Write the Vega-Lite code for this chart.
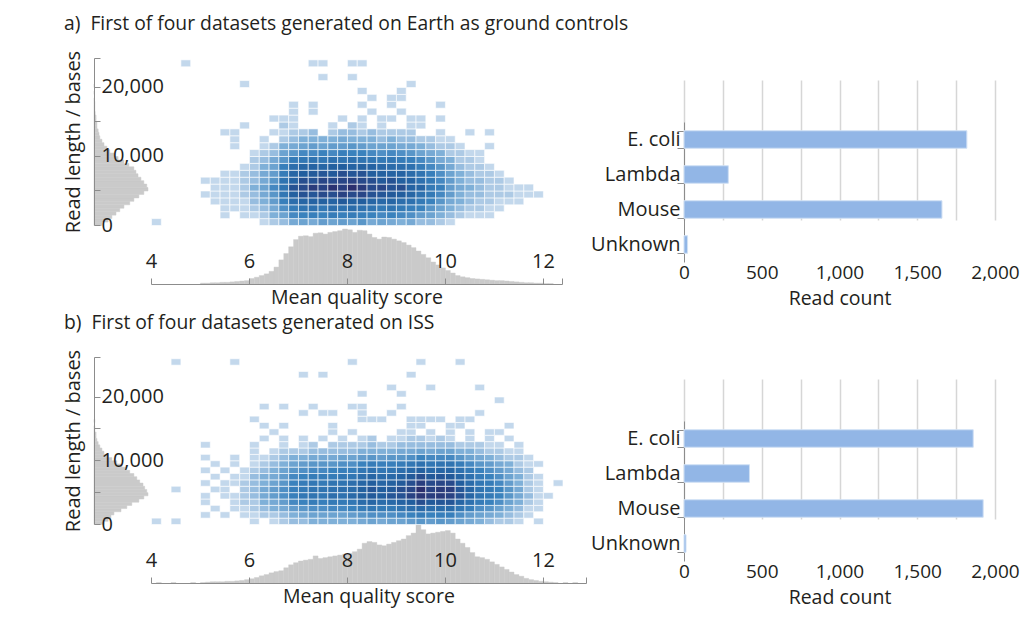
{
"$schema": "https://vega.github.io/schema/vega-lite/v6.json",
"background": "white",
"padding": {"left": 63, "top": 14, "right": 0, "bottom": 8},
"spacing": 5,
"config": {
  "font": "Open Sans",
  "view": {"stroke": null},
  "axis": {"labelFont": "Open Sans", "titleFont": "Open Sans", "labelColor": "#231f20", "titleColor": "#231f20", "titleFontWeight": "normal", "labelFontSize": 20, "titleFontSize": 19.5, "domainColor": "#8c8c8c", "tickColor": "#8c8c8c", "labelFlush": false, "labelOverlap": false, "grid": false},
  "title": {"font": "Open Sans", "fontSize": 19.3, "fontWeight": "normal", "color": "#231f20", "anchor": "start", "frame": "group", "dx": -30, "offset": 14, "baseline": "bottom"}
},
"datasets": {
"ba": [{"o":"E. coli","c":1819},{"o":"Lambda","c":285},{"o":"Mouse","c":1659},{"o":"Unknown","c":23}],
"bb": [{"o":"E. coli","c":1860},{"o":"Lambda","c":421},{"o":"Mouse","c":1924},{"o":"Unknown","c":13}],
"xa": [{"q":5.0,"n":2},{"q":5.1,"n":2},{"q":5.2,"n":3},{"q":5.3,"n":3},{"q":5.4,"n":4},{"q":5.5,"n":4},{"q":5.6,"n":5},{"q":5.7,"n":6},{"q":5.8,"n":7},{"q":5.9,"n":8},{"q":6.0,"n":13},{"q":6.1,"n":16},{"q":6.2,"n":20},{"q":6.3,"n":24},{"q":6.4,"n":30},{"q":6.5,"n":40},{"q":6.6,"n":57},{"q":6.7,"n":72},{"q":6.8,"n":88},{"q":6.9,"n":105},{"q":7.0,"n":113},{"q":7.1,"n":114},{"q":7.2,"n":112},{"q":7.3,"n":120},{"q":7.4,"n":121},{"q":7.5,"n":118},{"q":7.6,"n":122},{"q":7.7,"n":124},{"q":7.8,"n":126},{"q":7.9,"n":130},{"q":8.0,"n":128},{"q":8.1,"n":122},{"q":8.2,"n":127},{"q":8.3,"n":126},{"q":8.4,"n":118},{"q":8.5,"n":110},{"q":8.6,"n":106},{"q":8.7,"n":111},{"q":8.8,"n":110},{"q":8.9,"n":106},{"q":9.0,"n":102},{"q":9.1,"n":98},{"q":9.2,"n":92},{"q":9.3,"n":86},{"q":9.4,"n":78},{"q":9.5,"n":70},{"q":9.6,"n":62},{"q":9.7,"n":52},{"q":9.8,"n":45},{"q":9.9,"n":38},{"q":10.0,"n":32},{"q":10.1,"n":26},{"q":10.2,"n":20},{"q":10.3,"n":17},{"q":10.4,"n":15},{"q":10.5,"n":13},{"q":10.6,"n":12},{"q":10.7,"n":11},{"q":10.8,"n":10},{"q":10.9,"n":9},{"q":11.0,"n":8},{"q":11.1,"n":8},{"q":11.2,"n":7},{"q":11.3,"n":6},{"q":11.4,"n":5},{"q":11.5,"n":4},{"q":11.6,"n":3},{"q":11.7,"n":3},{"q":11.8,"n":2},{"q":11.9,"n":2},{"q":12.0,"n":1},{"q":12.1,"n":1}],
"xb": [{"q":4.1,"n":1},{"q":4.4,"n":1},{"q":4.8,"n":1},{"q":5.0,"n":1},{"q":5.1,"n":2},{"q":5.2,"n":3},{"q":5.3,"n":3},{"q":5.4,"n":3},{"q":5.5,"n":4},{"q":5.6,"n":4},{"q":5.7,"n":5},{"q":5.8,"n":6},{"q":5.9,"n":8},{"q":6.0,"n":10},{"q":6.1,"n":13},{"q":6.2,"n":17},{"q":6.3,"n":20},{"q":6.4,"n":24},{"q":6.5,"n":27},{"q":6.6,"n":29},{"q":6.7,"n":36},{"q":6.8,"n":43},{"q":6.9,"n":48},{"q":7.0,"n":52},{"q":7.1,"n":54},{"q":7.2,"n":56},{"q":7.3,"n":64},{"q":7.4,"n":58},{"q":7.5,"n":60},{"q":7.6,"n":62},{"q":7.7,"n":64},{"q":7.8,"n":66},{"q":7.9,"n":68},{"q":8.0,"n":70},{"q":8.1,"n":74},{"q":8.2,"n":80},{"q":8.3,"n":94},{"q":8.4,"n":98},{"q":8.5,"n":96},{"q":8.6,"n":90},{"q":8.7,"n":88},{"q":8.8,"n":92},{"q":8.9,"n":96},{"q":9.0,"n":100},{"q":9.1,"n":104},{"q":9.2,"n":112},{"q":9.3,"n":118},{"q":9.4,"n":137},{"q":9.5,"n":126},{"q":9.6,"n":116},{"q":9.7,"n":118},{"q":9.8,"n":120},{"q":9.9,"n":122},{"q":10.0,"n":124},{"q":10.1,"n":118},{"q":10.2,"n":104},{"q":10.3,"n":94},{"q":10.4,"n":84},{"q":10.5,"n":72},{"q":10.6,"n":62},{"q":10.7,"n":60},{"q":10.8,"n":56},{"q":10.9,"n":50},{"q":11.0,"n":44},{"q":11.1,"n":38},{"q":11.2,"n":32},{"q":11.3,"n":26},{"q":11.4,"n":20},{"q":11.5,"n":16},{"q":11.6,"n":11},{"q":11.7,"n":8},{"q":11.8,"n":6},{"q":11.9,"n":4},{"q":12.0,"n":3},{"q":12.1,"n":2},{"q":12.2,"n":1},{"q":12.4,"n":1},{"q":12.6,"n":1}],
"ya": [{"l":0,"n":19},{"l":0.5,"n":34},{"l":1,"n":43},{"l":1.5,"n":53},{"l":2,"n":62},{"l":2.5,"n":72},{"l":3,"n":86},{"l":3.5,"n":96},{"l":4,"n":108},{"l":4.5,"n":120},{"l":5,"n":130},{"l":5.5,"n":127},{"l":6,"n":120},{"l":6.5,"n":113},{"l":7,"n":106},{"l":7.5,"n":101},{"l":8,"n":96},{"l":8.5,"n":84},{"l":9,"n":72},{"l":9.5,"n":58},{"l":10,"n":48},{"l":10.5,"n":38},{"l":11,"n":31},{"l":11.5,"n":24},{"l":12,"n":19},{"l":12.5,"n":14},{"l":13,"n":12},{"l":13.5,"n":10},{"l":14,"n":7},{"l":14.5,"n":7},{"l":15,"n":5},{"l":15.5,"n":5},{"l":16,"n":3},{"l":16.5,"n":2},{"l":17,"n":2},{"l":17.5,"n":2},{"l":18,"n":1},{"l":19,"n":1},{"l":20,"n":1}],
"yb": [{"l":0,"n":24},{"l":0.5,"n":34},{"l":1,"n":41},{"l":1.5,"n":48},{"l":2,"n":65},{"l":2.5,"n":79},{"l":3,"n":91},{"l":3.5,"n":108},{"l":4,"n":120},{"l":4.5,"n":130},{"l":5,"n":127},{"l":5.5,"n":122},{"l":6,"n":118},{"l":6.5,"n":110},{"l":7,"n":103},{"l":7.5,"n":96},{"l":8,"n":86},{"l":8.5,"n":77},{"l":9,"n":67},{"l":9.5,"n":55},{"l":10,"n":43},{"l":10.5,"n":34},{"l":11,"n":24},{"l":11.5,"n":19},{"l":12,"n":14},{"l":12.5,"n":10},{"l":13,"n":7},{"l":13.5,"n":5},{"l":14,"n":5},{"l":14.5,"n":2},{"l":15,"n":2},{"l":16,"n":2}],
"ha": [
{"q":4.0,"l":0,"n":1},{"q":6.2,"l":0,"n":1},{"q":6.4,"l":0,"n":2},{"q":6.6,"l":0,"n":3},{"q":6.8,"l":0,"n":5},{"q":7.0,"l":0,"n":6},{"q":7.2,"l":0,"n":5},{"q":7.4,"l":0,"n":7},{"q":7.6,"l":0,"n":6},{"q":7.8,"l":0,"n":7},{"q":8.0,"l":0,"n":6},{"q":8.2,"l":0,"n":8},{"q":8.4,"l":0,"n":5},{"q":8.6,"l":0,"n":6},{"q":8.8,"l":0,"n":5},{"q":9.0,"l":0,"n":4},{"q":9.2,"l":0,"n":5},{"q":9.4,"l":0,"n":3},{"q":9.6,"l":0,"n":3},{"q":9.8,"l":0,"n":2},{"q":10.0,"l":0,"n":1},
{"q":5.4,"l":1,"n":1},{"q":5.8,"l":1,"n":1},{"q":6.0,"l":1,"n":1},{"q":6.2,"l":1,"n":2},{"q":6.4,"l":1,"n":4},{"q":6.6,"l":1,"n":6},{"q":6.8,"l":1,"n":10},{"q":7.0,"l":1,"n":11},{"q":7.2,"l":1,"n":12},{"q":7.4,"l":1,"n":11},{"q":7.6,"l":1,"n":13},{"q":7.8,"l":1,"n":12},{"q":8.0,"l":1,"n":13},{"q":8.2,"l":1,"n":12},{"q":8.4,"l":1,"n":11},{"q":8.6,"l":1,"n":10},{"q":8.8,"l":1,"n":11},{"q":9.0,"l":1,"n":10},{"q":9.2,"l":1,"n":9},{"q":9.4,"l":1,"n":7},{"q":9.6,"l":1,"n":6},{"q":9.8,"l":1,"n":4},{"q":10.0,"l":1,"n":3},{"q":10.2,"l":1,"n":2},{"q":10.4,"l":1,"n":1},{"q":10.6,"l":1,"n":1},{"q":10.8,"l":1,"n":1},
{"q":5.4,"l":2,"n":1},{"q":5.6,"l":2,"n":1},{"q":5.8,"l":2,"n":1},{"q":6.0,"l":2,"n":2},{"q":6.2,"l":2,"n":3},{"q":6.4,"l":2,"n":5},{"q":6.6,"l":2,"n":9},{"q":6.8,"l":2,"n":13},{"q":7.0,"l":2,"n":16},{"q":7.2,"l":2,"n":17},{"q":7.4,"l":2,"n":15},{"q":7.6,"l":2,"n":18},{"q":7.8,"l":2,"n":17},{"q":8.0,"l":2,"n":19},{"q":8.2,"l":2,"n":17},{"q":8.4,"l":2,"n":16},{"q":8.6,"l":2,"n":14},{"q":8.8,"l":2,"n":16},{"q":9.0,"l":2,"n":14},{"q":9.2,"l":2,"n":12},{"q":9.4,"l":2,"n":11},{"q":9.6,"l":2,"n":8},{"q":9.8,"l":2,"n":6},{"q":10.0,"l":2,"n":4},{"q":10.2,"l":2,"n":3},{"q":10.4,"l":2,"n":2},{"q":10.6,"l":2,"n":2},{"q":10.8,"l":2,"n":1},{"q":11.0,"l":2,"n":1},
{"q":5.2,"l":3,"n":1},{"q":5.4,"l":3,"n":1},{"q":5.6,"l":3,"n":1},{"q":5.8,"l":3,"n":1},{"q":6.0,"l":3,"n":3},{"q":6.2,"l":3,"n":4},{"q":6.4,"l":3,"n":7},{"q":6.6,"l":3,"n":12},{"q":6.8,"l":3,"n":18},{"q":7.0,"l":3,"n":21},{"q":7.2,"l":3,"n":22},{"q":7.4,"l":3,"n":23},{"q":7.6,"l":3,"n":22},{"q":7.8,"l":3,"n":25},{"q":8.0,"l":3,"n":23},{"q":8.2,"l":3,"n":24},{"q":8.4,"l":3,"n":21},{"q":8.6,"l":3,"n":20},{"q":8.8,"l":3,"n":21},{"q":9.0,"l":3,"n":18},{"q":9.2,"l":3,"n":17},{"q":9.4,"l":3,"n":14},{"q":9.6,"l":3,"n":11},{"q":9.8,"l":3,"n":8},{"q":10.0,"l":3,"n":5},{"q":10.2,"l":3,"n":4},{"q":10.4,"l":3,"n":3},{"q":10.6,"l":3,"n":2},{"q":10.8,"l":3,"n":2},{"q":11.0,"l":3,"n":1},{"q":11.2,"l":3,"n":1},{"q":11.4,"l":3,"n":1},
{"q":5.0,"l":4,"n":1},{"q":5.2,"l":4,"n":1},{"q":5.4,"l":4,"n":1},{"q":5.6,"l":4,"n":1},{"q":5.8,"l":4,"n":2},{"q":6.0,"l":4,"n":3},{"q":6.2,"l":4,"n":5},{"q":6.4,"l":4,"n":8},{"q":6.6,"l":4,"n":15},{"q":6.8,"l":4,"n":23},{"q":7.0,"l":4,"n":27},{"q":7.2,"l":4,"n":26},{"q":7.4,"l":4,"n":29},{"q":7.6,"l":4,"n":28},{"q":7.8,"l":4,"n":31},{"q":8.0,"l":4,"n":29},{"q":8.2,"l":4,"n":30},{"q":8.4,"l":4,"n":27},{"q":8.6,"l":4,"n":26},{"q":8.8,"l":4,"n":25},{"q":9.0,"l":4,"n":24},{"q":9.2,"l":4,"n":21},{"q":9.4,"l":4,"n":17},{"q":9.6,"l":4,"n":14},{"q":9.8,"l":4,"n":10},{"q":10.0,"l":4,"n":7},{"q":10.2,"l":4,"n":4},{"q":10.4,"l":4,"n":3},{"q":10.6,"l":4,"n":3},{"q":10.8,"l":4,"n":2},{"q":11.0,"l":4,"n":2},{"q":11.2,"l":4,"n":2},{"q":11.4,"l":4,"n":1},{"q":11.6,"l":4,"n":1},{"q":11.8,"l":4,"n":1},
{"q":5.2,"l":5,"n":1},{"q":5.4,"l":5,"n":1},{"q":5.6,"l":5,"n":1},{"q":5.8,"l":5,"n":2},{"q":6.0,"l":5,"n":4},{"q":6.2,"l":5,"n":6},{"q":6.4,"l":5,"n":10},{"q":6.6,"l":5,"n":16},{"q":6.8,"l":5,"n":27},{"q":7.0,"l":5,"n":29},{"q":7.2,"l":5,"n":33},{"q":7.4,"l":5,"n":31},{"q":7.6,"l":5,"n":35},{"q":7.8,"l":5,"n":32},{"q":8.0,"l":5,"n":36},{"q":8.2,"l":5,"n":33},{"q":8.4,"l":5,"n":29},{"q":8.6,"l":5,"n":30},{"q":8.8,"l":5,"n":27},{"q":9.0,"l":5,"n":28},{"q":9.2,"l":5,"n":22},{"q":9.4,"l":5,"n":21},{"q":9.6,"l":5,"n":14},{"q":9.8,"l":5,"n":12},{"q":10.0,"l":5,"n":7},{"q":10.2,"l":5,"n":5},{"q":10.4,"l":5,"n":4},{"q":10.6,"l":5,"n":3},{"q":10.8,"l":5,"n":2},{"q":11.0,"l":5,"n":2},{"q":11.2,"l":5,"n":1},{"q":11.4,"l":5,"n":1},{"q":11.6,"l":5,"n":1},
{"q":5.0,"l":6,"n":1},{"q":5.2,"l":6,"n":1},{"q":5.4,"l":6,"n":1},{"q":5.6,"l":6,"n":1},{"q":5.8,"l":6,"n":2},{"q":6.0,"l":6,"n":3},{"q":6.2,"l":6,"n":5},{"q":6.4,"l":6,"n":8},{"q":6.6,"l":6,"n":16},{"q":6.8,"l":6,"n":22},{"q":7.0,"l":6,"n":28},{"q":7.2,"l":6,"n":27},{"q":7.4,"l":6,"n":30},{"q":7.6,"l":6,"n":29},{"q":7.8,"l":6,"n":30},{"q":8.0,"l":6,"n":31},{"q":8.2,"l":6,"n":29},{"q":8.4,"l":6,"n":28},{"q":8.6,"l":6,"n":25},{"q":8.8,"l":6,"n":27},{"q":9.0,"l":6,"n":23},{"q":9.2,"l":6,"n":22},{"q":9.4,"l":6,"n":17},{"q":9.6,"l":6,"n":14},{"q":9.8,"l":6,"n":10},{"q":10.0,"l":6,"n":7},{"q":10.2,"l":6,"n":4},{"q":10.4,"l":6,"n":3},{"q":10.6,"l":6,"n":3},{"q":10.8,"l":6,"n":2},{"q":11.0,"l":6,"n":2},{"q":11.2,"l":6,"n":1},
{"q":5.4,"l":7,"n":1},{"q":5.6,"l":7,"n":1},{"q":5.8,"l":7,"n":2},{"q":6.0,"l":7,"n":3},{"q":6.2,"l":7,"n":5},{"q":6.4,"l":7,"n":7},{"q":6.6,"l":7,"n":13},{"q":6.8,"l":7,"n":21},{"q":7.0,"l":7,"n":24},{"q":7.2,"l":7,"n":25},{"q":7.4,"l":7,"n":26},{"q":7.6,"l":7,"n":25},{"q":7.8,"l":7,"n":28},{"q":8.0,"l":7,"n":26},{"q":8.2,"l":7,"n":27},{"q":8.4,"l":7,"n":24},{"q":8.6,"l":7,"n":23},{"q":8.8,"l":7,"n":22},{"q":9.0,"l":7,"n":22},{"q":9.2,"l":7,"n":19},{"q":9.4,"l":7,"n":16},{"q":9.6,"l":7,"n":12},{"q":9.8,"l":7,"n":9},{"q":10.0,"l":7,"n":6},{"q":10.2,"l":7,"n":4},{"q":10.4,"l":7,"n":3},{"q":10.6,"l":7,"n":2},{"q":10.8,"l":7,"n":2},{"q":11.0,"l":7,"n":1},
{"q":5.8,"l":8,"n":1},{"q":6.0,"l":8,"n":2},{"q":6.2,"l":8,"n":4},{"q":6.4,"l":8,"n":6},{"q":6.6,"l":8,"n":12},{"q":6.8,"l":8,"n":18},{"q":7.0,"l":8,"n":21},{"q":7.2,"l":8,"n":22},{"q":7.4,"l":8,"n":21},{"q":7.6,"l":8,"n":23},{"q":7.8,"l":8,"n":24},{"q":8.0,"l":8,"n":22},{"q":8.2,"l":8,"n":23},{"q":8.4,"l":8,"n":22},{"q":8.6,"l":8,"n":20},{"q":8.8,"l":8,"n":19},{"q":9.0,"l":8,"n":18},{"q":9.2,"l":8,"n":17},{"q":9.4,"l":8,"n":13},{"q":9.6,"l":8,"n":10},{"q":9.8,"l":8,"n":8},{"q":10.0,"l":8,"n":5},{"q":10.2,"l":8,"n":3},{"q":10.4,"l":8,"n":2},{"q":10.6,"l":8,"n":2},{"q":10.8,"l":8,"n":1},
{"q":6.0,"l":9,"n":2},{"q":6.2,"l":9,"n":3},{"q":6.4,"l":9,"n":5},{"q":6.6,"l":9,"n":8},{"q":6.8,"l":9,"n":13},{"q":7.0,"l":9,"n":15},{"q":7.2,"l":9,"n":16},{"q":7.4,"l":9,"n":15},{"q":7.6,"l":9,"n":17},{"q":7.8,"l":9,"n":16},{"q":8.0,"l":9,"n":17},{"q":8.2,"l":9,"n":16},{"q":8.4,"l":9,"n":15},{"q":8.6,"l":9,"n":14},{"q":8.8,"l":9,"n":15},{"q":9.0,"l":9,"n":13},{"q":9.2,"l":9,"n":12},{"q":9.4,"l":9,"n":10},{"q":9.6,"l":9,"n":8},{"q":9.8,"l":9,"n":5},{"q":10.0,"l":9,"n":4},{"q":10.2,"l":9,"n":2},{"q":10.4,"l":9,"n":2},{"q":10.6,"l":9,"n":1},
{"q":6.0,"l":10,"n":1},{"q":6.2,"l":10,"n":2},{"q":6.4,"l":10,"n":3},{"q":6.6,"l":10,"n":6},{"q":6.8,"l":10,"n":8},{"q":7.0,"l":10,"n":10},{"q":7.2,"l":10,"n":10},{"q":7.4,"l":10,"n":11},{"q":7.6,"l":10,"n":10},{"q":7.8,"l":10,"n":12},{"q":8.0,"l":10,"n":11},{"q":8.2,"l":10,"n":11},{"q":8.4,"l":10,"n":10},{"q":8.6,"l":10,"n":9},{"q":8.8,"l":10,"n":10},{"q":9.0,"l":10,"n":9},{"q":9.2,"l":10,"n":8},{"q":9.4,"l":10,"n":6},{"q":9.6,"l":10,"n":5},{"q":9.8,"l":10,"n":4},{"q":10.0,"l":10,"n":2},{"q":10.2,"l":10,"n":2},{"q":10.4,"l":10,"n":1},{"q":10.6,"l":10,"n":1},
{"q":5.6,"l":11,"n":1},{"q":6.2,"l":11,"n":1},{"q":6.4,"l":11,"n":2},{"q":6.6,"l":11,"n":4},{"q":6.8,"l":11,"n":5},{"q":7.0,"l":11,"n":6},{"q":7.2,"l":11,"n":7},{"q":7.4,"l":11,"n":6},{"q":7.6,"l":11,"n":7},{"q":7.8,"l":11,"n":7},{"q":8.0,"l":11,"n":8},{"q":8.2,"l":11,"n":7},{"q":8.4,"l":11,"n":6},{"q":8.6,"l":11,"n":6},{"q":8.8,"l":11,"n":6},{"q":9.0,"l":11,"n":5},{"q":9.2,"l":11,"n":5},{"q":9.4,"l":11,"n":4},{"q":9.6,"l":11,"n":3},{"q":9.8,"l":11,"n":2},{"q":10.0,"l":11,"n":2},{"q":10.2,"l":11,"n":1},{"q":10.8,"l":11,"n":1},
{"q":5.6,"l":12,"n":1},{"q":6.2,"l":12,"n":1},{"q":6.6,"l":12,"n":2},{"q":6.8,"l":12,"n":3},{"q":7.0,"l":12,"n":4},{"q":7.2,"l":12,"n":4},{"q":7.4,"l":12,"n":4},{"q":7.6,"l":12,"n":4},{"q":7.8,"l":12,"n":5},{"q":8.0,"l":12,"n":4},{"q":8.2,"l":12,"n":4},{"q":8.4,"l":12,"n":4},{"q":8.6,"l":12,"n":3},{"q":8.8,"l":12,"n":4},{"q":9.0,"l":12,"n":3},{"q":9.2,"l":12,"n":3},{"q":9.4,"l":12,"n":2},{"q":9.6,"l":12,"n":2},{"q":9.8,"l":12,"n":1},{"q":10.0,"l":12,"n":1},
{"q":5.4,"l":13,"n":1},{"q":5.6,"l":13,"n":1},{"q":6.4,"l":13,"n":1},{"q":6.6,"l":13,"n":1},{"q":6.8,"l":13,"n":2},{"q":7.0,"l":13,"n":2},{"q":7.2,"l":13,"n":3},{"q":7.6,"l":13,"n":2},{"q":7.8,"l":13,"n":3},{"q":8.0,"l":13,"n":3},{"q":8.2,"l":13,"n":2},{"q":8.4,"l":13,"n":3},{"q":8.6,"l":13,"n":2},{"q":8.8,"l":13,"n":2},{"q":9.0,"l":13,"n":2},{"q":9.2,"l":13,"n":2},{"q":9.8,"l":13,"n":1},{"q":10.4,"l":13,"n":1},{"q":10.8,"l":13,"n":1},
{"q":5.8,"l":14,"n":1},{"q":6.6,"l":14,"n":2},{"q":6.8,"l":14,"n":1},{"q":7.6,"l":14,"n":1},{"q":8.0,"l":14,"n":2},{"q":8.2,"l":14,"n":1},{"q":8.6,"l":14,"n":1},{"q":9.2,"l":14,"n":1},{"q":9.4,"l":14,"n":1},
{"q":6.4,"l":15,"n":1},{"q":6.6,"l":15,"n":1},{"q":6.8,"l":15,"n":1},{"q":7.8,"l":15,"n":1},{"q":8.2,"l":15,"n":1},{"q":8.6,"l":15,"n":1},{"q":8.8,"l":15,"n":1},{"q":9.2,"l":15,"n":1},{"q":9.4,"l":15,"n":1},{"q":9.8,"l":15,"n":1},
{"q":6.8,"l":16,"n":1},{"q":7.2,"l":16,"n":1},{"q":8.4,"l":16,"n":1},{"q":9.0,"l":16,"n":1},
{"q":6.8,"l":17,"n":1},{"q":7.2,"l":17,"n":1},{"q":8.2,"l":17,"n":1},{"q":8.8,"l":17,"n":1},{"q":9.8,"l":17,"n":1},
{"q":8.4,"l":18,"n":1},{"q":8.8,"l":18,"n":1},{"q":9.0,"l":18,"n":1},
{"q":8.2,"l":19,"n":1},{"q":9.0,"l":19,"n":1},
{"q":5.8,"l":20,"n":1},{"q":9.2,"l":20,"n":1},
{"q":7.4,"l":21,"n":1},{"q":8.0,"l":21,"n":1},
{"q":4.6,"l":23,"n":1},{"q":7.2,"l":23,"n":1},{"q":7.4,"l":23,"n":1},{"q":8.0,"l":23,"n":1},{"q":8.2,"l":23,"n":1}
],
"hb": [
{"q":4.0,"l":0,"n":1},{"q":4.4,"l":0,"n":1},{"q":6.0,"l":0,"n":1},{"q":6.4,"l":0,"n":1},{"q":6.6,"l":0,"n":2},{"q":6.8,"l":0,"n":3},{"q":7.0,"l":0,"n":3},{"q":7.2,"l":0,"n":4},{"q":7.4,"l":0,"n":4},{"q":7.6,"l":0,"n":4},{"q":7.8,"l":0,"n":4},{"q":8.0,"l":0,"n":4},{"q":8.2,"l":0,"n":5},{"q":8.4,"l":0,"n":6},{"q":8.6,"l":0,"n":5},{"q":8.8,"l":0,"n":6},{"q":9.0,"l":0,"n":6},{"q":9.2,"l":0,"n":7},{"q":9.4,"l":0,"n":8},{"q":9.6,"l":0,"n":7},{"q":9.8,"l":0,"n":8},{"q":10.0,"l":0,"n":7},{"q":10.2,"l":0,"n":6},{"q":10.4,"l":0,"n":5},{"q":10.6,"l":0,"n":4},{"q":10.8,"l":0,"n":3},{"q":11.0,"l":0,"n":2},{"q":11.2,"l":0,"n":2},{"q":11.4,"l":0,"n":1},{"q":11.8,"l":0,"n":1},
{"q":5.0,"l":1,"n":1},{"q":5.4,"l":1,"n":1},{"q":5.8,"l":1,"n":1},{"q":6.0,"l":1,"n":1},{"q":6.2,"l":1,"n":2},{"q":6.4,"l":1,"n":2},{"q":6.6,"l":1,"n":3},{"q":6.8,"l":1,"n":4},{"q":7.0,"l":1,"n":5},{"q":7.2,"l":1,"n":6},{"q":7.4,"l":1,"n":6},{"q":7.6,"l":1,"n":6},{"q":7.8,"l":1,"n":6},{"q":8.0,"l":1,"n":7},{"q":8.2,"l":1,"n":8},{"q":8.4,"l":1,"n":9},{"q":8.6,"l":1,"n":9},{"q":8.8,"l":1,"n":9},{"q":9.0,"l":1,"n":10},{"q":9.2,"l":1,"n":11},{"q":9.4,"l":1,"n":13},{"q":9.6,"l":1,"n":11},{"q":9.8,"l":1,"n":12},{"q":10.0,"l":1,"n":12},{"q":10.2,"l":1,"n":9},{"q":10.4,"l":1,"n":7},{"q":10.6,"l":1,"n":6},{"q":10.8,"l":1,"n":5},{"q":11.0,"l":1,"n":4},{"q":11.2,"l":1,"n":3},{"q":11.4,"l":1,"n":2},{"q":11.6,"l":1,"n":1},
{"q":5.2,"l":2,"n":1},{"q":5.6,"l":2,"n":1},{"q":5.8,"l":2,"n":1},{"q":6.0,"l":2,"n":2},{"q":6.2,"l":2,"n":3},{"q":6.4,"l":2,"n":4},{"q":6.6,"l":2,"n":5},{"q":6.8,"l":2,"n":7},{"q":7.0,"l":2,"n":8},{"q":7.2,"l":2,"n":9},{"q":7.4,"l":2,"n":9},{"q":7.6,"l":2,"n":10},{"q":7.8,"l":2,"n":10},{"q":8.0,"l":2,"n":11},{"q":8.2,"l":2,"n":13},{"q":8.4,"l":2,"n":15},{"q":8.6,"l":2,"n":14},{"q":8.8,"l":2,"n":14},{"q":9.0,"l":2,"n":16},{"q":9.2,"l":2,"n":18},{"q":9.4,"l":2,"n":20},{"q":9.6,"l":2,"n":18},{"q":9.8,"l":2,"n":19},{"q":10.0,"l":2,"n":19},{"q":10.2,"l":2,"n":15},{"q":10.4,"l":2,"n":12},{"q":10.6,"l":2,"n":9},{"q":10.8,"l":2,"n":8},{"q":11.0,"l":2,"n":6},{"q":11.2,"l":2,"n":4},{"q":11.4,"l":2,"n":3},{"q":11.6,"l":2,"n":1},{"q":11.8,"l":2,"n":1},
{"q":5.0,"l":3,"n":1},{"q":5.6,"l":3,"n":1},{"q":5.8,"l":3,"n":2},{"q":6.0,"l":3,"n":2},{"q":6.2,"l":3,"n":4},{"q":6.4,"l":3,"n":5},{"q":6.6,"l":3,"n":7},{"q":6.8,"l":3,"n":10},{"q":7.0,"l":3,"n":11},{"q":7.2,"l":3,"n":13},{"q":7.4,"l":3,"n":12},{"q":7.6,"l":3,"n":14},{"q":7.8,"l":3,"n":14},{"q":8.0,"l":3,"n":15},{"q":8.2,"l":3,"n":19},{"q":8.4,"l":3,"n":21},{"q":8.6,"l":3,"n":19},{"q":8.8,"l":3,"n":20},{"q":9.0,"l":3,"n":22},{"q":9.2,"l":3,"n":24},{"q":9.4,"l":3,"n":28},{"q":9.6,"l":3,"n":25},{"q":9.8,"l":3,"n":26},{"q":10.0,"l":3,"n":26},{"q":10.2,"l":3,"n":21},{"q":10.4,"l":3,"n":17},{"q":10.6,"l":3,"n":13},{"q":10.8,"l":3,"n":11},{"q":11.0,"l":3,"n":9},{"q":11.2,"l":3,"n":6},{"q":11.4,"l":3,"n":4},{"q":11.6,"l":3,"n":2},{"q":11.8,"l":3,"n":1},
{"q":5.0,"l":4,"n":1},{"q":5.4,"l":4,"n":1},{"q":5.6,"l":4,"n":1},{"q":5.8,"l":4,"n":2},{"q":6.0,"l":4,"n":3},{"q":6.2,"l":4,"n":5},{"q":6.4,"l":4,"n":7},{"q":6.6,"l":4,"n":9},{"q":6.8,"l":4,"n":12},{"q":7.0,"l":4,"n":15},{"q":7.2,"l":4,"n":16},{"q":7.4,"l":4,"n":15},{"q":7.6,"l":4,"n":18},{"q":7.8,"l":4,"n":17},{"q":8.0,"l":4,"n":20},{"q":8.2,"l":4,"n":23},{"q":8.4,"l":4,"n":25},{"q":8.6,"l":4,"n":24},{"q":8.8,"l":4,"n":26},{"q":9.0,"l":4,"n":27},{"q":9.2,"l":4,"n":31},{"q":9.4,"l":4,"n":34},{"q":9.6,"l":4,"n":32},{"q":9.8,"l":4,"n":33},{"q":10.0,"l":4,"n":31},{"q":10.2,"l":4,"n":27},{"q":10.4,"l":4,"n":21},{"q":10.6,"l":4,"n":16},{"q":10.8,"l":4,"n":14},{"q":11.0,"l":4,"n":11},{"q":11.2,"l":4,"n":8},{"q":11.4,"l":4,"n":5},{"q":11.6,"l":4,"n":3},{"q":11.8,"l":4,"n":1},{"q":12.0,"l":4,"n":1},
{"q":4.4,"l":5,"n":1},{"q":5.2,"l":5,"n":1},{"q":5.4,"l":5,"n":1},{"q":5.8,"l":5,"n":2},{"q":6.0,"l":5,"n":3},{"q":6.2,"l":5,"n":5},{"q":6.4,"l":5,"n":7},{"q":6.6,"l":5,"n":9},{"q":6.8,"l":5,"n":12},{"q":7.0,"l":5,"n":14},{"q":7.2,"l":5,"n":16},{"q":7.4,"l":5,"n":16},{"q":7.6,"l":5,"n":17},{"q":7.8,"l":5,"n":18},{"q":8.0,"l":5,"n":19},{"q":8.2,"l":5,"n":23},{"q":8.4,"l":5,"n":26},{"q":8.6,"l":5,"n":24},{"q":8.8,"l":5,"n":25},{"q":9.0,"l":5,"n":28},{"q":9.2,"l":5,"n":30},{"q":9.4,"l":5,"n":36},{"q":9.6,"l":5,"n":31},{"q":9.8,"l":5,"n":33},{"q":10.0,"l":5,"n":32},{"q":10.2,"l":5,"n":26},{"q":10.4,"l":5,"n":21},{"q":10.6,"l":5,"n":16},{"q":10.8,"l":5,"n":14},{"q":11.0,"l":5,"n":11},{"q":11.2,"l":5,"n":8},{"q":11.4,"l":5,"n":5},{"q":11.6,"l":5,"n":2},{"q":11.8,"l":5,"n":1},
{"q":5.0,"l":6,"n":1},{"q":5.4,"l":6,"n":1},{"q":5.6,"l":6,"n":1},{"q":5.8,"l":6,"n":2},{"q":6.0,"l":6,"n":3},{"q":6.2,"l":6,"n":4},{"q":6.4,"l":6,"n":6},{"q":6.6,"l":6,"n":8},{"q":6.8,"l":6,"n":11},{"q":7.0,"l":6,"n":13},{"q":7.2,"l":6,"n":15},{"q":7.4,"l":6,"n":14},{"q":7.6,"l":6,"n":16},{"q":7.8,"l":6,"n":16},{"q":8.0,"l":6,"n":18},{"q":8.2,"l":6,"n":21},{"q":8.4,"l":6,"n":24},{"q":8.6,"l":6,"n":21},{"q":8.8,"l":6,"n":23},{"q":9.0,"l":6,"n":25},{"q":9.2,"l":6,"n":28},{"q":9.4,"l":6,"n":32},{"q":9.6,"l":6,"n":29},{"q":9.8,"l":6,"n":30},{"q":10.0,"l":6,"n":29},{"q":10.2,"l":6,"n":24},{"q":10.4,"l":6,"n":19},{"q":10.6,"l":6,"n":15},{"q":10.8,"l":6,"n":13},{"q":11.0,"l":6,"n":10},{"q":11.2,"l":6,"n":7},{"q":11.4,"l":6,"n":4},{"q":11.6,"l":6,"n":2},{"q":11.8,"l":6,"n":1},{"q":12.2,"l":6,"n":1},
{"q":5.2,"l":7,"n":1},{"q":5.6,"l":7,"n":1},{"q":5.8,"l":7,"n":1},{"q":6.0,"l":7,"n":3},{"q":6.2,"l":7,"n":4},{"q":6.4,"l":7,"n":5},{"q":6.6,"l":7,"n":7},{"q":6.8,"l":7,"n":10},{"q":7.0,"l":7,"n":11},{"q":7.2,"l":7,"n":13},{"q":7.4,"l":7,"n":13},{"q":7.6,"l":7,"n":13},{"q":7.8,"l":7,"n":15},{"q":8.0,"l":7,"n":15},{"q":8.2,"l":7,"n":18},{"q":8.4,"l":7,"n":21},{"q":8.6,"l":7,"n":19},{"q":8.8,"l":7,"n":20},{"q":9.0,"l":7,"n":22},{"q":9.2,"l":7,"n":25},{"q":9.4,"l":7,"n":28},{"q":9.6,"l":7,"n":25},{"q":9.8,"l":7,"n":26},{"q":10.0,"l":7,"n":25},{"q":10.2,"l":7,"n":21},{"q":10.4,"l":7,"n":17},{"q":10.6,"l":7,"n":13},{"q":10.8,"l":7,"n":11},{"q":11.0,"l":7,"n":9},{"q":11.2,"l":7,"n":6},{"q":11.4,"l":7,"n":4},{"q":11.6,"l":7,"n":2},{"q":11.8,"l":7,"n":1},
{"q":5.0,"l":8,"n":1},{"q":5.4,"l":8,"n":1},{"q":5.8,"l":8,"n":1},{"q":6.0,"l":8,"n":2},{"q":6.2,"l":8,"n":3},{"q":6.4,"l":8,"n":4},{"q":6.6,"l":8,"n":6},{"q":6.8,"l":8,"n":8},{"q":7.0,"l":8,"n":9},{"q":7.2,"l":8,"n":10},{"q":7.4,"l":8,"n":10},{"q":7.6,"l":8,"n":11},{"q":7.8,"l":8,"n":12},{"q":8.0,"l":8,"n":12},{"q":8.2,"l":8,"n":15},{"q":8.4,"l":8,"n":17},{"q":8.6,"l":8,"n":15},{"q":8.8,"l":8,"n":16},{"q":9.0,"l":8,"n":18},{"q":9.2,"l":8,"n":20},{"q":9.4,"l":8,"n":23},{"q":9.6,"l":8,"n":20},{"q":9.8,"l":8,"n":21},{"q":10.0,"l":8,"n":21},{"q":10.2,"l":8,"n":17},{"q":10.4,"l":8,"n":14},{"q":10.6,"l":8,"n":11},{"q":10.8,"l":8,"n":9},{"q":11.0,"l":8,"n":7},{"q":11.2,"l":8,"n":5},{"q":11.4,"l":8,"n":3},{"q":11.6,"l":8,"n":2},
{"q":5.2,"l":9,"n":1},{"q":5.6,"l":9,"n":1},{"q":6.0,"l":9,"n":1},{"q":6.2,"l":9,"n":2},{"q":6.4,"l":9,"n":3},{"q":6.6,"l":9,"n":4},{"q":6.8,"l":9,"n":6},{"q":7.0,"l":9,"n":7},{"q":7.2,"l":9,"n":8},{"q":7.4,"l":9,"n":8},{"q":7.6,"l":9,"n":8},{"q":7.8,"l":9,"n":9},{"q":8.0,"l":9,"n":9},{"q":8.2,"l":9,"n":11},{"q":8.4,"l":9,"n":13},{"q":8.6,"l":9,"n":12},{"q":8.8,"l":9,"n":12},{"q":9.0,"l":9,"n":13},{"q":9.2,"l":9,"n":15},{"q":9.4,"l":9,"n":17},{"q":9.6,"l":9,"n":15},{"q":9.8,"l":9,"n":16},{"q":10.0,"l":9,"n":16},{"q":10.2,"l":9,"n":13},{"q":10.4,"l":9,"n":10},{"q":10.6,"l":9,"n":8},{"q":10.8,"l":9,"n":7},{"q":11.0,"l":9,"n":5},{"q":11.2,"l":9,"n":4},{"q":11.4,"l":9,"n":2},{"q":11.6,"l":9,"n":1},{"q":11.8,"l":9,"n":1},
{"q":5.0,"l":10,"n":1},{"q":5.6,"l":10,"n":1},{"q":6.0,"l":10,"n":1},{"q":6.2,"l":10,"n":1},{"q":6.4,"l":10,"n":2},{"q":6.6,"l":10,"n":3},{"q":6.8,"l":10,"n":4},{"q":7.0,"l":10,"n":4},{"q":7.2,"l":10,"n":5},{"q":7.4,"l":10,"n":5},{"q":7.6,"l":10,"n":5},{"q":7.8,"l":10,"n":6},{"q":8.0,"l":10,"n":6},{"q":8.2,"l":10,"n":7},{"q":8.4,"l":10,"n":8},{"q":8.6,"l":10,"n":7},{"q":8.8,"l":10,"n":8},{"q":9.0,"l":10,"n":8},{"q":9.2,"l":10,"n":9},{"q":9.4,"l":10,"n":11},{"q":9.6,"l":10,"n":10},{"q":9.8,"l":10,"n":10},{"q":10.0,"l":10,"n":10},{"q":10.2,"l":10,"n":8},{"q":10.4,"l":10,"n":6},{"q":10.6,"l":10,"n":5},{"q":10.8,"l":10,"n":4},{"q":11.0,"l":10,"n":3},{"q":11.2,"l":10,"n":2},{"q":11.4,"l":10,"n":2},{"q":11.6,"l":10,"n":1},
{"q":6.0,"l":11,"n":1},{"q":6.4,"l":11,"n":1},{"q":6.6,"l":11,"n":2},{"q":6.8,"l":11,"n":2},{"q":7.0,"l":11,"n":2},{"q":7.2,"l":11,"n":3},{"q":7.4,"l":11,"n":3},{"q":7.6,"l":11,"n":3},{"q":7.8,"l":11,"n":3},{"q":8.0,"l":11,"n":3},{"q":8.2,"l":11,"n":4},{"q":8.4,"l":11,"n":4},{"q":8.6,"l":11,"n":4},{"q":8.8,"l":11,"n":4},{"q":9.0,"l":11,"n":5},{"q":9.2,"l":11,"n":5},{"q":9.4,"l":11,"n":6},{"q":9.6,"l":11,"n":5},{"q":9.8,"l":11,"n":6},{"q":10.0,"l":11,"n":6},{"q":10.2,"l":11,"n":4},{"q":10.4,"l":11,"n":4},{"q":10.6,"l":11,"n":3},{"q":10.8,"l":11,"n":2},{"q":11.0,"l":11,"n":2},{"q":11.2,"l":11,"n":1},{"q":11.4,"l":11,"n":1},
{"q":5.0,"l":12,"n":1},{"q":6.0,"l":12,"n":1},{"q":6.6,"l":12,"n":1},{"q":7.0,"l":12,"n":1},{"q":7.2,"l":12,"n":2},{"q":7.6,"l":12,"n":2},{"q":7.8,"l":12,"n":2},{"q":8.0,"l":12,"n":2},{"q":8.2,"l":12,"n":2},{"q":8.4,"l":12,"n":3},{"q":8.6,"l":12,"n":2},{"q":8.8,"l":12,"n":2},{"q":9.0,"l":12,"n":3},{"q":9.2,"l":12,"n":3},{"q":9.4,"l":12,"n":3},{"q":9.6,"l":12,"n":3},{"q":9.8,"l":12,"n":3},{"q":10.0,"l":12,"n":3},{"q":10.2,"l":12,"n":2},{"q":10.4,"l":12,"n":2},{"q":10.6,"l":12,"n":2},{"q":10.8,"l":12,"n":1},{"q":11.0,"l":12,"n":1},{"q":11.4,"l":12,"n":1},
{"q":6.2,"l":13,"n":1},{"q":6.6,"l":13,"n":1},{"q":7.0,"l":13,"n":1},{"q":7.4,"l":13,"n":1},{"q":7.8,"l":13,"n":1},{"q":8.2,"l":13,"n":1},{"q":8.4,"l":13,"n":2},{"q":8.8,"l":13,"n":1},{"q":9.0,"l":13,"n":1},{"q":9.2,"l":13,"n":2},{"q":9.4,"l":13,"n":2},{"q":9.6,"l":13,"n":1},{"q":9.8,"l":13,"n":2},{"q":10.0,"l":13,"n":1},{"q":10.4,"l":13,"n":1},{"q":10.8,"l":13,"n":1},{"q":11.2,"l":13,"n":1},
{"q":6.4,"l":14,"n":1},{"q":7.6,"l":14,"n":1},{"q":8.0,"l":14,"n":1},{"q":9.0,"l":14,"n":1},{"q":9.2,"l":14,"n":1},{"q":9.6,"l":14,"n":1},{"q":10.0,"l":14,"n":1},{"q":10.4,"l":14,"n":1},{"q":10.8,"l":14,"n":1},{"q":11.0,"l":14,"n":1},
{"q":6.2,"l":15,"n":1},{"q":6.6,"l":15,"n":1},{"q":7.6,"l":15,"n":1},{"q":9.2,"l":15,"n":1},{"q":9.4,"l":15,"n":1},{"q":10.0,"l":15,"n":1},{"q":10.2,"l":15,"n":1},{"q":11.2,"l":15,"n":1},
{"q":6.0,"l":16,"n":1},{"q":8.2,"l":16,"n":1},{"q":8.4,"l":16,"n":1},{"q":8.6,"l":16,"n":1},{"q":9.2,"l":16,"n":1},{"q":9.4,"l":16,"n":1},{"q":9.6,"l":16,"n":1},{"q":9.8,"l":16,"n":1},{"q":10.2,"l":16,"n":1},{"q":10.4,"l":16,"n":1},
{"q":7.0,"l":17,"n":1},{"q":7.4,"l":17,"n":1},{"q":7.6,"l":17,"n":1},{"q":8.2,"l":17,"n":1},{"q":8.8,"l":17,"n":1},{"q":10.6,"l":17,"n":1},
{"q":6.2,"l":18,"n":1},{"q":6.6,"l":18,"n":1},{"q":7.2,"l":18,"n":1},{"q":8.0,"l":18,"n":1},{"q":8.2,"l":18,"n":1},{"q":9.0,"l":18,"n":1},
{"q":11.0,"l":19,"n":1},
{"q":8.2,"l":20,"n":1},{"q":9.0,"l":20,"n":1},
{"q":8.8,"l":21,"n":1},{"q":9.6,"l":21,"n":1},{"q":10.6,"l":21,"n":1},
{"q":7.0,"l":23,"n":1},{"q":7.4,"l":23,"n":1},{"q":9.2,"l":23,"n":1},
{"q":4.4,"l":25,"n":1},{"q":5.6,"l":25,"n":1},{"q":8.0,"l":25,"n":1},{"q":9.4,"l":25,"n":1},{"q":10.2,"l":25,"n":1}
]
},
"vconcat": [
{
  "title": {"text": "a)\u00a0\u00a0First of four datasets generated on Earth as ground controls"},
  "width": 910, "height": 226,
  "layer": [
    {"data": {"name": "xa"}, "mark": {"type": "bar", "color": "#cacaca", "stroke": "#cacaca", "strokeWidth": 0.4, "binSpacing": 0},
     "encoding": {
       "x": {"field": "q", "type": "quantitative", "bin": {"binned": true, "step": 0.1}, "scale": {"domain": [4, 12.39], "range": [57, 468], "nice": false, "zero": false}, "axis": null},
       "y": {"field": "n", "type": "quantitative", "scale": {"domain": [0, 130], "range": [226, 171], "nice": false}, "axis": null}}},
    {"data": {"name": "ya"}, "mark": {"type": "bar", "color": "#cacaca", "stroke": "#cacaca", "strokeWidth": 0.5, "binSpacing": 0, "orient": "horizontal"},
     "encoding": {
       "y": {"field": "l", "type": "quantitative", "bin": {"binned": true, "step": 0.5}, "scale": {"domain": [0, 24.2], "range": [167, 0], "nice": false, "zero": false}, "axis": null},
       "x": {"field": "n", "type": "quantitative", "scale": {"domain": [0, 130], "range": [0, 54], "nice": false}, "axis": null}}},
    {"data": {"name": "ha"}, "mark": {"type": "rect", "stroke": "white", "strokeWidth": 0.6},
     "encoding": {
       "x": {"field": "q", "type": "quantitative", "bin": {"binned": true, "step": 0.2}, "scale": {"domain": [4, 12.39], "range": [57, 468], "nice": false, "zero": false},
             "axis": {"orient": "bottom", "values": [4, 6, 8, 10, 12, 12.39], "labelExpr": "datum.value % 2 === 0 ? format(datum.value, 'd') : ''", "tickSize": -6, "labelPadding": -7, "labelBaseline": "bottom", "title": "Mean quality score", "titlePadding": 4, "zindex": 1}},
       "y": {"field": "l", "type": "quantitative", "bin": {"binned": true, "step": 1}, "scale": {"domain": [0, 24.2], "range": [167, 0], "nice": false, "zero": false},
             "axis": {"orient": "left", "values": [0, 5, 10, 15, 20, 24.2], "labelExpr": "datum.value % 10 === 0 ? format(datum.value * 1000, ',') : ''", "tickSize": -6, "labelAlign": "left", "labelBaseline": "middle", "labelPadding": -1, "title": "Read length / bases", "titlePadding": 10, "titleFontSize": 20, "zindex": 1}},
       "color": {"field": "n", "type": "quantitative", "scale": {"domain": [1, 4, 11, 24, 36], "range": ["#c3d8ec", "#7fb0d8", "#3a82bd", "#225e9e", "#2b2f6e"]}, "legend": null}}},
    {"data": {"name": "ba"}, "mark": {"type": "bar", "color": "#92b6e6", "stroke": "#d0e0f4", "strokeWidth": 1},
     "encoding": {
       "y": {"field": "o", "type": "nominal", "sort": null, "scale": {"range": [64, 204], "paddingInner": 0.5, "paddingOuter": 0.25},
             "axis": {"orient": "left", "offset": -590, "title": null, "tickBand": "extent", "tickSize": 7, "labelPadding": -3}},
       "x": {"field": "c", "type": "quantitative", "scale": {"domain": [0, 2000], "range": [590, 901], "nice": false},
             "axis": {"orient": "bottom", "offset": -22, "values": [0, 250, 500, 750, 1000, 1250, 1500, 1750, 2000], "labelExpr": "datum.value % 500 === 0 ? datum.label : ''", "grid": true, "gridColor": "#d6d6d6", "gridWidth": 1.5, "domain": false, "ticks": false, "labelFontSize": 19, "labelPadding": 1, "title": "Read count", "titlePadding": 7}}}}
  ],
  "resolve": {"scale": {"x": "independent", "y": "independent", "color": "independent"}, "axis": {"x": "independent", "y": "independent"}}
},
{
  "title": {"text": "b)\u00a0\u00a0First of four datasets generated on ISS"},
  "width": 910, "height": 226,
  "layer": [
    {"data": {"name": "xb"}, "mark": {"type": "bar", "color": "#cacaca", "stroke": "#cacaca", "strokeWidth": 0.4, "binSpacing": 0},
     "encoding": {
       "x": {"field": "q", "type": "quantitative", "bin": {"binned": true, "step": 0.1}, "scale": {"domain": [4, 12.88], "range": [57, 492], "nice": false, "zero": false}, "axis": null},
       "y": {"field": "n", "type": "quantitative", "scale": {"domain": [0, 130], "range": [226, 171], "nice": false}, "axis": null}}},
    {"data": {"name": "yb"}, "mark": {"type": "bar", "color": "#cacaca", "stroke": "#cacaca", "strokeWidth": 0.5, "binSpacing": 0, "orient": "horizontal"},
     "encoding": {
       "y": {"field": "l", "type": "quantitative", "bin": {"binned": true, "step": 0.5}, "scale": {"domain": [0, 26.2], "range": [167, 0], "nice": false, "zero": false}, "axis": null},
       "x": {"field": "n", "type": "quantitative", "scale": {"domain": [0, 130], "range": [0, 54], "nice": false}, "axis": null}}},
    {"data": {"name": "hb"}, "mark": {"type": "rect", "stroke": "white", "strokeWidth": 0.6},
     "encoding": {
       "x": {"field": "q", "type": "quantitative", "bin": {"binned": true, "step": 0.2}, "scale": {"domain": [4, 12.88], "range": [57, 492], "nice": false, "zero": false},
             "axis": {"orient": "bottom", "values": [4, 6, 8, 10, 12, 12.88], "labelExpr": "datum.value % 2 === 0 ? format(datum.value, 'd') : ''", "tickSize": -6, "labelPadding": -7, "labelBaseline": "bottom", "title": "Mean quality score", "titlePadding": 4, "zindex": 1}},
       "y": {"field": "l", "type": "quantitative", "bin": {"binned": true, "step": 1}, "scale": {"domain": [0, 26.2], "range": [167, 0], "nice": false, "zero": false},
             "axis": {"orient": "left", "values": [0, 5, 10, 15, 20, 26.2], "labelExpr": "datum.value % 10 === 0 ? format(datum.value * 1000, ',') : ''", "tickSize": -6, "labelAlign": "left", "labelBaseline": "middle", "labelPadding": -1, "title": "Read length / bases", "titlePadding": 10, "titleFontSize": 20, "zindex": 1}},
       "color": {"field": "n", "type": "quantitative", "scale": {"domain": [1, 4, 11, 24, 36], "range": ["#c3d8ec", "#7fb0d8", "#3a82bd", "#225e9e", "#2b2f6e"]}, "legend": null}}},
    {"data": {"name": "bb"}, "mark": {"type": "bar", "color": "#92b6e6", "stroke": "#d0e0f4", "strokeWidth": 1},
     "encoding": {
       "y": {"field": "o", "type": "nominal", "sort": null, "scale": {"range": [64, 204], "paddingInner": 0.5, "paddingOuter": 0.25},
             "axis": {"orient": "left", "offset": -590, "title": null, "tickBand": "extent", "tickSize": 7, "labelPadding": -3}},
       "x": {"field": "c", "type": "quantitative", "scale": {"domain": [0, 2000], "range": [590, 901], "nice": false},
             "axis": {"orient": "bottom", "offset": -22, "values": [0, 250, 500, 750, 1000, 1250, 1500, 1750, 2000], "labelExpr": "datum.value % 500 === 0 ? datum.label : ''", "grid": true, "gridColor": "#d6d6d6", "gridWidth": 1.5, "domain": false, "ticks": false, "labelFontSize": 19, "labelPadding": 1, "title": "Read count", "titlePadding": 7}}}}
  ],
  "resolve": {"scale": {"x": "independent", "y": "independent", "color": "independent"}, "axis": {"x": "independent", "y": "independent"}}
}
]
}
